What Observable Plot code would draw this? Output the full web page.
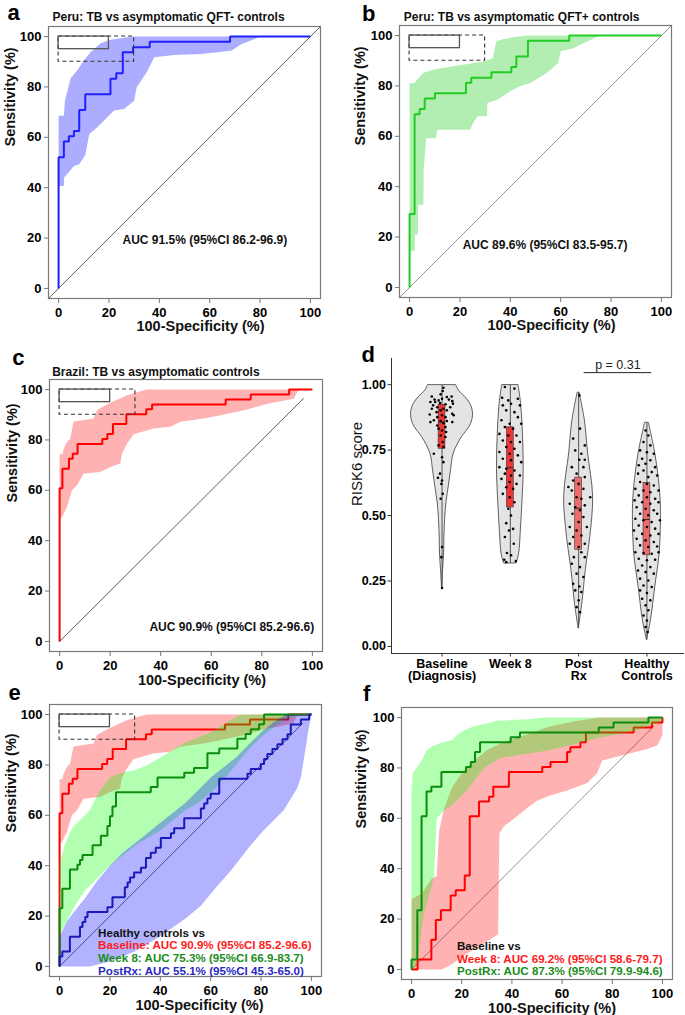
<!DOCTYPE html>
<html><head><meta charset="utf-8">
<script src="https://cdn.jsdelivr.net/npm/d3@7"></script>
<script src="https://cdn.jsdelivr.net/npm/@observablehq/plot@0.6"></script>
<style>
body{margin:0;background:#fff;overflow:hidden}
#fig{position:relative;width:685px;height:1015px;background:#fff}
#fig svg{position:absolute}
</style></head>
<body><div id="fig"></div>
<script>
// ---------------- DATA ----------------
const rocTicks = [0, 20, 40, 60, 80, 100];
const refSolid = [0, 20, 95, 100];   // x1,x2,y1,y2
const refDashed = [0, 30, 90, 100];
const diagFull = [-4, 104];
const diagShort = [0, 96.5];

// Panel a: Peru, TB vs QFT- controls
const aFpr = [0, 0, 2.1, 4.1, 6.1, 8.2, 10.6, 20.6, 22.9, 25.5, 29.6, 36.2, 68.1, 100];
const aTpr = [0, 52.1, 58.3, 60.4, 62.5, 70.8, 77.1, 83.3, 85.4, 93.8, 95.8, 97.9, 100, 100];
const aBandHi = [[0,68.6],[2.1,68.6],[2.5,74.5],[4.8,83.5],[7.4,86.5],[10,90.5],[12.7,93.8],[16.7,97.3],[20.6,98.7],[27.2,99.7],[30,100],[100,100]];
const aBandLo = [[0,40.7],[2.1,40.7],[2.2,44],[4,46],[6,48.5],[8.2,49.3],[10.6,53],[12.2,61.3],[15.3,63.9],[18,66.6],[22,70.6],[26,71.2],[30,74.5],[31,79.8],[35,85.8],[38,91.8],[46,92.7],[56.6,93.1],[68.6,94.4],[72.5,97],[80.4,100],[100,100]];

// Panel b: Peru, TB vs QFT+ controls
const bFpr = [0, 0, 2.0, 4.0, 6.0, 10.1, 22.4, 24.5, 32.5, 40.4, 42.4, 47, 63.4, 100];
const bTpr = [0, 29.2, 68.8, 70.8, 75, 77.1, 81.3, 83.3, 85.4, 87.5, 91.7, 97.9, 100, 100];
const bBandHi = [[0,81.2],[2,81.2],[3,82.5],[5.6,85.2],[9.6,86.5],[17.5,87.8],[25.5,89.1],[29.5,89.7],[33,91],[34.5,97.7],[37,98.5],[41,99.3],[46.4,100],[100,100]];
const bBandLo = [[0,14.6],[2,14.6],[2.2,21],[3.3,21],[3.4,32.8],[5.5,32.8],[5.6,46.6],[6.6,59.2],[10.5,59.2],[10.9,62.6],[24,62.6],[25.6,66],[27,68],[30.7,68],[30.9,73.2],[35,74.6],[40,77.9],[44,80],[48,81.2],[54.6,85.2],[59,89.1],[60,93.8],[65,95],[69,97],[75.6,100],[100,100]];

// Panel c (and e, baseline): Brazil, TB vs controls
const cFpr = [0, 0, 1.1, 3.7, 5.2, 7.1, 16.9, 18.9, 21.1, 26.4, 34.3, 36.6, 65.7, 75.6, 90.8, 100];
const cTpr = [0, 60.8, 68.6, 72.5, 74.5, 78.4, 80.4, 82.4, 86.3, 90.2, 92.2, 94.1, 96.1, 98.0, 100, 100];
const cBandHi = [[0,74.3],[1.1,74.3],[1.6,76.5],[2.9,79.2],[4.2,80.5],[5.5,87.3],[13.5,88.5],[14.8,91.8],[17.4,93.4],[21.4,95.4],[26.7,97.7],[33.3,99.7],[34.6,100],[100,100]];
const cBandLo = [[0,48.7],[1,49.4],[2.9,53.4],[4.9,60],[6.9,62],[9.5,66.6],[16.1,67.3],[20.1,69.3],[24,70.6],[24.7,74.6],[26.7,78.5],[29.3,82.3],[37.2,84.5],[43.9,85.2],[47.8,87.2],[57.1,88.5],[63.7,89.8],[73,91.8],[82.2,94.4],[92.7,96.4],[94,99],[95.4,100],[100,100]];

// Panel e: healthy controls vs Week 8 / PostRx
const eWk8Fpr = [0, 0, 1.1, 4.1, 7.1, 8.1, 9.1, 13.1, 16.4, 19, 20, 21, 22.4, 36.2, 38.9, 49.5, 53.4, 58.7, 63.4, 70.6, 73.9, 75.9, 79.2, 81.2, 100];
const eWk8Tpr = [0, 23.1, 30.8, 38.5, 40.4, 42.3, 44.2, 48.1, 51.9, 55.8, 59.6, 63.5, 69.2, 71.2, 75, 76.9, 78.8, 84.6, 86.5, 90.4, 92.3, 94.2, 96.2, 100, 100];
const eWk8BandHi = [[0,41],[2,48],[5,55],[8,58],[12,62],[16,70],[20,75],[25,77],[30,78],[35,80],[40,83],[45,86],[50,89],[55,91],[60,93],[65,96],[70,99],[72,100],[100,100]];
const eWk8BandLo = [[0,13],[3,18],[6,24],[10,30],[15,35],[20,40],[25,44],[30,48],[35,51],[40,54],[45,58],[50,62],[55,65],[60,69],[65,74],[70,80],[75,86],[80,91],[85,95],[90,98],[95,100],[100,100]];
const eRxFpr = [0, 0, 1.1, 4.1, 8.1, 9.1, 10.2, 11.1, 19, 21, 25.9, 27, 28, 29.6, 32.3, 34.3, 36.2, 38.2, 40.2, 44.2, 45.5, 49.5, 56.1, 57.4, 58.7, 60, 63.4, 74.6, 75.9, 79.9, 81.2, 82.5, 84.5, 86.5, 88.5, 90.5, 91.8, 95.8, 99.1, 100];
const eRxTpr = [0, 3.9, 5.9, 11.8, 15.7, 17.6, 19.6, 21.6, 23.5, 27.5, 31.4, 33.3, 35.3, 37.3, 39.2, 43.1, 45.1, 47.1, 51.0, 52.9, 54.9, 58.8, 62.7, 64.7, 66.7, 68.6, 74.5, 76.5, 78.4, 80.4, 82.4, 84.3, 86.3, 88.2, 90.2, 92.2, 96.1, 98, 100, 100];
const eRxBandHi = [[0,12],[3,18],[6,22],[10,27],[15,34],[20,40],[25,45],[30,49],[35,53],[40,57],[45,61],[50,65],[55,70],[60,75],[65,79],[70,83],[75,88],[80,93],[85,97],[90,100],[100,100]];
const eRxBandLo = [[0,0],[12,0],[20,2],[30,6],[40,12],[50,19],[56,24],[62.7,32],[68,38],[75,47],[80,53],[89,62],[94.5,71],[96,76],[98.5,92],[100,100]];
const eLegend = ["Healthy controls vs", "Baseline: AUC 90.9% (95%CI 85.2-96.6)", "Week 8: AUC 75.3% (95%CI 66.9-83.7)", "PostRx: AUC 55.1% (95%CI 45.3-65.0)"];

// Panel f: baseline vs Week 8 / PostRx
const fWk8Fpr = [0, 2.4, 7.9, 9.7, 11.7, 15.6, 17.6, 21.2, 23.2, 26.9, 30.9, 32.6, 38.8, 52.1, 55.4, 62, 63.3, 67.3, 69.5, 88.5, 95.8, 100];
const fWk8Tpr = [0, 3.9, 11.8, 19.6, 23.5, 29.4, 31.4, 37.3, 60.8, 66.7, 68.6, 72.5, 78.4, 80.4, 82.4, 86.3, 88.2, 90.2, 94.1, 96.1, 98.0, 100];
const fWk8BandHi = [[0,28],[4,30],[8,36],[10,37],[11,55],[13,64],[16,72],[20,78],[25,83],[30,87],[35,89.5],[45,93],[55,96.5],[65,98.5],[75,100],[100,100]];
const fWk8BandLo = [[0,0],[12,0],[16,2],[20,5],[25,8],[30,11],[34.5,14],[35,54],[37,57],[41,60],[46,64],[50,67],[55,69],[62,71],[70,74],[74,78],[76,83],[86,85.5],[94,87.5],[98,89],[100,93]];
const fRxFpr = [0, 0, 2.3, 4, 6, 7.9, 11.9, 21.7, 23.6, 25.3, 27.3, 39.5, 43.2, 74.6, 80.5, 94.4, 100];
const fRxTpr = [0, 3.9, 23.5, 60.8, 70.6, 72.5, 78.4, 80.4, 82.4, 86.3, 90.2, 92.2, 94.1, 96.1, 98.0, 100, 100];
const fRxBandHi = [[0,71],[0.5,78],[2,80],[4,83],[6,87],[8,88.5],[12,90],[16,91],[18,93],[21,95],[25,96.7],[30,97.6],[34,98.7],[46,99.3],[53,100],[100,100]];
const fRxBandLo = [[0,0],[2,2],[3,8],[4,16],[5,22],[6,26],[7.5,31],[9,37],[10,60],[14,64],[16,65],[22,71],[29,80],[35.5,84],[55,87],[75,92],[88.5,94.6],[100,98.6]];
const fLegend = ["Baseline vs", "Week 8: AUC 69.2% (95%CI 58.6-79.7)", "PostRx: AUC 87.3% (95%CI 79.9-94.6)"];

// Panel d: RISK6 scores
const dCategories = ["Baseline\n(Diagnosis)", "Week 8", "Post\nRx", "Healthy\nControls"];
const dYTicks = [0, 0.25, 0.5, 0.75, 1];
const violinBaseY = [0.997,0.978,0.952,0.927,0.889,0.85,0.825,0.80,0.737,0.673,0.61,0.546,0.483,0.419,0.355,0.292,0.222];
const violinBaseW = [0.208,0.245,0.341,0.414,0.454,0.425,0.366,0.293,0.171,0.132,0.098,0.063,0.044,0.034,0.03,0.015,0];
const violinWk8Y = [0.997,0.927,0.80,0.673,0.546,0.444,0.355,0.317];
const violinWk8W = [0.12,0.157,0.186,0.195,0.176,0.154,0.129,0.092];
const violinRxY = [0.968,0.864,0.737,0.572,0.419,0.292,0.164,0.068];
const violinRxW = [0.015,0.091,0.139,0.212,0.171,0.105,0.054,0];
const violinHcY = [0.853,0.737,0.61,0.521,0.355,0.228,0.1,0.024];
const violinHcW = [0.029,0.122,0.186,0.205,0.186,0.122,0.059,0];
const boxQ1 = [0.755, 0.531, 0.369, 0.348];
const boxMed = [0.857, 0.683, 0.528, 0.485];
const boxQ3 = [0.923, 0.837, 0.645, 0.625];
const boxMin = [0.222, 0.317, 0.068, 0.024];
const boxMax = [0.997, 0.997, 0.968, 0.853];
const baseDx = [0.02,0.01,-0.02,0.14,-0.15,0.07,-0.11,-0.05,0,0.1,-0.17,-0.1,0.15,-0.03,0.16,-0.13,0.05,-0.07,0.12,-0.15,0.02,0.07,-0.02,-0.08,-0.18,0.15,0,0.17,-0.07,0.05,-0.12,-0.02,0.07,-0.17,0.15,0.02,-0.07,0.05,-0.05,0,0.06,-0.02,0.05,0.01,-0.05,0.02,-0.12,0,0.02,-0.03,-0.06,0,-0.01,0.01,-0.02,0,-0.01,0];
const baseY = [0.988,0.976,0.963,0.955,0.955,0.953,0.943,0.940,0.946,0.943,0.934,0.934,0.937,0.930,0.927,0.921,0.925,0.914,0.914,0.908,0.908,0.902,0.902,0.895,0.886,0.889,0.883,0.883,0.876,0.876,0.864,0.861,0.861,0.857,0.857,0.853,0.844,0.838,0.832,0.825,0.819,0.806,0.800,0.781,0.768,0.762,0.736,0.723,0.704,0.660,0.644,0.634,0.621,0.583,0.564,0.380,0.341,0.223];
const wk8Dx = [-0.08,0.06,-0.12,0.11,-0.03,-0.11,0.01,0.14,-0.06,0.06,0.11,-0.13,-0.01,0.16,-0.08,0.04,-0.16,-0.03,0.09,-0.11,0.01,0.14,-0.06,0.06,-0.16,-0.01,0.11,-0.11,0.01,0.16,-0.16,-0.06,0.06,-0.08,0.01,0.14,-0.13,-0.01,0.09,-0.06,0.04,-0.11,-0.01,0.06,-0.03,0.01,-0.06,0.04,-0.02,-0.08,0.05,-0.05,0.01,-0.09,0.08,-0.06];
const wk8Y = [0.991,0.985,0.950,0.946,0.940,0.921,0.927,0.921,0.902,0.895,0.876,0.864,0.851,0.851,0.838,0.832,0.812,0.806,0.806,0.787,0.781,0.781,0.762,0.755,0.743,0.736,0.730,0.717,0.711,0.704,0.685,0.679,0.672,0.660,0.653,0.653,0.640,0.628,0.621,0.608,0.602,0.583,0.570,0.551,0.526,0.500,0.471,0.449,0.443,0.418,0.392,0.357,0.348,0.331,0.326,0.322];
const rxDx = [0.01,0.02,-0.08,0.09,-0.05,0.04,0.01,0.09,-0.10,0.07,-0.03,-0.08,0.09,0,-0.15,0.07,-0.10,0.17,-0.03,0.04,-0.13,0.09,-0.05,0.02,-0.09,0.07,0,-0.13,0.12,-0.03,0.04,-0.08,0.09,-0.13,0,0.04,-0.07,0.09,-0.10,0.02,-0.03,0.07,-0.08,0.01,0.04,-0.05,0,-0.03,0.02];
const rxY = [0.959,0.832,0.794,0.768,0.749,0.736,0.713,0.713,0.685,0.685,0.660,0.634,0.647,0.621,0.609,0.602,0.596,0.570,0.570,0.564,0.545,0.539,0.532,0.520,0.507,0.494,0.475,0.456,0.456,0.443,0.424,0.418,0.392,0.392,0.380,0.360,0.341,0.341,0.316,0.303,0.278,0.265,0.239,0.229,0.208,0.214,0.176,0.150,0.131];
const hcDx = [-0.02,0.02,-0.05,0.05,-0.10,0,0.10,-0.07,0.05,-0.12,-0.02,0.12,-0.05,0.07,-0.13,0.02,0.15,-0.10,0,0.10,-0.17,-0.05,0.05,0.17,-0.12,0,0.12,-0.18,-0.07,0.05,0.17,-0.15,-0.02,0.10,-0.10,0.02,0.15,-0.17,-0.05,0.07,0.19,-0.12,0,0.12,-0.19,-0.07,0.05,0.17,-0.15,-0.02,0.10,-0.10,0.02,0.15,-0.17,-0.05,0.07,0.17,-0.12,0,0.12,-0.07,0.05,-0.13,-0.02,0.10,-0.10,0.02,-0.05,0.07,-0.10,0,-0.07,0.05,-0.02,0.02,-0.05,0,-0.02,0.01];
const hcY = [0.825,0.806,0.781,0.768,0.749,0.742,0.736,0.717,0.711,0.692,0.698,0.685,0.672,0.666,0.660,0.647,0.653,0.628,0.621,0.615,0.602,0.596,0.589,0.596,0.577,0.570,0.564,0.558,0.551,0.545,0.551,0.532,0.526,0.520,0.507,0.501,0.507,0.488,0.482,0.475,0.482,0.462,0.456,0.450,0.443,0.430,0.424,0.430,0.411,0.405,0.399,0.386,0.380,0.382,0.360,0.357,0.354,0.360,0.335,0.329,0.331,0.309,0.303,0.290,0.284,0.278,0.259,0.252,0.233,0.227,0.214,0.204,0.182,0.176,0.157,0.138,0.118,0.099,0.074,0.055];
const sigX = [3.08, 4.07];
const sigY = 1.046;
const sigLabel = "p = 0.31";

// ---------------- DRAWING ----------------
const FONT = "'Liberation Sans', Arial, Helvetica, sans-serif";
const fig = document.getElementById("fig");
const pts = (xs, ys) => xs.map((x, i) => ({x, y: ys[i]}));
const poly = (hi, lo) => [...hi, ...lo.slice().reverse()].map(([x, y]) => ({x, y}));

function place(svg, left, top) {
  svg.style.left = left + "px";
  svg.style.top = top + "px";
  svg.style.background = "transparent";
  svg.style.overflow = "visible";
  svg.style.maxWidth = "none";
  svg.style.fontFamily = FONT;
  fig.appendChild(svg);
}

function rocPlot(c) {
  const marks = [];
  marks.push(Plot.line(pts(c.diag, c.diag), {x: "x", y: "y", stroke: c.diagColor, strokeWidth: 0.8}));
  for (const L of c.layers) {
    marks.push(Plot.line(poly(L.hi, L.lo), {x: "x", y: "y", fill: L.bandColor, fillOpacity: L.opacity, stroke: "none"}));
    marks.push(Plot.line(pts(L.fpr, L.tpr), {x: "x", y: "y", stroke: L.color, strokeWidth: 2, curve: "step-after", strokeLinecap: "butt", strokeLinejoin: "miter"}));
  }
  if (c.ref) {
    marks.push(Plot.rect([refDashed], {x1: d => d[0], x2: d => d[1], y1: d => d[2], y2: d => d[3], fill: "none", stroke: "#333", strokeWidth: 1.1, strokeDasharray: "4,3"}));
    marks.push(Plot.rect([refSolid], {x1: d => d[0], x2: d => d[1], y1: d => d[2], y2: d => d[3], fill: "none", stroke: "#555", strokeWidth: 1.3}));
  }
  marks.push(Plot.frame({stroke: "#7a7a7a", strokeWidth: 1.2}));
  marks.push(Plot.axisX({ticks: rocTicks, tickSize: 5, tickPadding: 4, fontSize: 13, fontWeight: "bold", stroke: "#777", label: null}));
  marks.push(Plot.axisY({ticks: rocTicks, tickSize: 4, tickPadding: 3, fontSize: 13, fontWeight: "bold", stroke: "#777", label: null}));
  marks.push(Plot.text(["100-Specificity (%)"], {text: d => d, frameAnchor: "bottom", lineAnchor: "middle", dx: c.xl[0], dy: c.xl[1], fontSize: 14.5, fontWeight: "bold", fill: "#111"}));
  marks.push(Plot.text(["Sensitivity (%)"], {text: d => d, frameAnchor: "left", lineAnchor: "middle", rotate: -90, dx: c.yl[0], dy: c.yl[1], fontSize: 14.5, fontWeight: "bold", fill: "#111"}));
  marks.push(Plot.text([c.letter], {text: d => d, frameAnchor: "top-left", lineAnchor: "middle", dx: c.lt[0], dy: c.lt[1], fontSize: 22, fontWeight: "bold", fill: "#000"}));
  if (c.title) marks.push(Plot.text([c.title], {text: d => d, frameAnchor: "top-left", lineAnchor: "middle", textAnchor: "start", dx: c.tt[0], dy: c.tt[1], fontSize: 12, fontWeight: "bold", fill: "#111"}));
  if (c.auc) marks.push(Plot.text([c.auc], {x: d => d.x, y: d => d.y, text: d => d.t, textAnchor: c.auc.anchor, fontSize: 12, fontWeight: "bold", fill: "#111"}));
  if (c.legend) marks.push(Plot.text(c.legend.lines, {x: () => c.legend.x, y: (d, i) => c.legend.y[i], text: d => d, fill: (d, i) => c.legend.colors[i], textAnchor: "start", fontSize: 11.6, fontWeight: "bold"}));
  const svg = Plot.plot({
    width: c.w, height: c.h,
    marginLeft: c.m[0], marginRight: c.m[1], marginTop: c.m[2], marginBottom: c.m[3],
    x: {domain: [-4, 104]}, y: {domain: [-4, 104]},
    color: {type: "identity"},
    style: {fontFamily: FONT},
    marks
  });
  place(svg, c.left, c.top);
}

// a
rocPlot({letter: "a", title: "Peru: TB vs asymptomatic QFT- controls", left: 0, top: 0, w: 340, h: 335, m: [48, 20, 26, 37],
  diag: diagFull, diagColor: "#333", ref: true,
  layers: [{fpr: aFpr, tpr: aTpr, hi: aBandHi, lo: aBandLo, color: "#1f1fff", bandColor: "#0000ff", opacity: 0.32}],
  xl: [16, 28], yl: [-38, -16], lt: [-41, -13.5], tt: [4, -9],
  auc: {t: "AUC 91.5% (95%CI 86.2-96.9)", x: 58.1, y: 19, anchor: "middle"}});
// b
rocPlot({letter: "b", title: "Peru: TB vs asymptomatic QFT+ controls", left: 340, top: 0, w: 345, h: 335, m: [59, 14, 25, 38],
  diag: diagFull, diagColor: "#777", ref: true,
  layers: [{fpr: bFpr, tpr: bTpr, hi: bBandHi, lo: bBandLo, color: "#22cc22", bandColor: "#00c800", opacity: 0.3}],
  xl: [16, 28], yl: [-39, -16], lt: [-37.5, -12], tt: [4.3, -8],
  auc: {t: "AUC 89.6% (95%CI 83.5-95.7)", x: 53.8, y: 16.6, anchor: "middle"}});
// c
rocPlot({letter: "c", title: "Brazil: TB vs asymptomatic controls", left: 0, top: 330, w: 340, h: 360, m: [49, 18, 49, 39],
  diag: diagShort, diagColor: "#333", ref: true,
  layers: [{fpr: cFpr, tpr: cTpr, hi: cBandHi, lo: cBandLo, color: "#ff0000", bandColor: "#ff0000", opacity: 0.3}],
  xl: [16, 29], yl: [-37, -13], lt: [-37.3, -21.5], tt: [2.7, -7.3],
  auc: {t: "AUC 90.9% (95%CI 85.2-96.6)", x: 100.7, y: 5.6, anchor: "end"}});
// e
rocPlot({letter: "e", left: 0, top: 660, w: 340, h: 355, m: [49, 19, 44, 39],
  diag: diagShort, diagColor: "#444", ref: true,
  layers: [
    {fpr: cFpr, tpr: cTpr, hi: cBandHi, lo: cBandLo, color: "#ff0000", bandColor: "#ff0000", opacity: 0.3},
    {fpr: eWk8Fpr, tpr: eWk8Tpr, hi: eWk8BandHi, lo: eWk8BandLo, color: "#0c8c0c", bandColor: "#00ff00", opacity: 0.3},
    {fpr: eRxFpr, tpr: eRxTpr, hi: eRxBandHi, lo: eRxBandLo, color: "#1a1ab8", bandColor: "#0000ff", opacity: 0.3}
  ],
  xl: [14, 29], yl: [-38, -8], lt: [-41, -11.5],
  legend: {lines: eLegend, x: 15.3, y: [13.2, 8.2, 3.2, -1.8], colors: ["#111", "#ff1a1a", "#1a8c1a", "#2a2ac4"]}});
// f
rocPlot({letter: "f", left: 340, top: 660, w: 345, h: 355, m: [61, 13, 47, 36],
  diag: diagShort, diagColor: "#777", ref: false,
  layers: [
    {fpr: fWk8Fpr, tpr: fWk8Tpr, hi: fWk8BandHi, lo: fWk8BandLo, color: "#ff0000", bandColor: "#ff0000", opacity: 0.3},
    {fpr: fRxFpr, tpr: fRxTpr, hi: fRxBandHi, lo: fRxBandLo, color: "#0c8c0c", bandColor: "#00ff00", opacity: 0.3}
  ],
  xl: [15, 28.4], yl: [-40, -15], lt: [-38.5, -14],
  legend: {lines: fLegend, x: 18.1, y: [9.3, 4.2, -0.9], colors: ["#111", "#ff1a1a", "#1a8c1a"]}});

// d: violins
(function () {
  const xDom = [0.26, 4.55], yDom = [-0.027, 1.1];
  const profiles = [[violinBaseY, violinBaseW], [violinWk8Y, violinWk8W], [violinRxY, violinRxW], [violinHcY, violinHcW]];
  const boxFill = ["#ef3636", "#ef3636", "#ef6b6b", "#ef6b6b"];
  const pointsSets = [[baseDx, baseY], [wk8Dx, wk8Y], [rxDx, rxY], [hcDx, hcY]];
  const boxes = boxQ1.map((q1, i) => ({c: i + 1, q1, q3: boxQ3[i], med: boxMed[i], lo: boxMin[i], hi: boxMax[i], fill: boxFill[i]}));
  const dots = pointsSets.flatMap(([dx, ys], i) => ys.map((y, j) => ({c: i + 1, dx: dx[j], y})));
  const marks = [];
  profiles.forEach(([ys, ws], i) => {
    const c = i + 1;
    marks.push(Plot.areaX(ys.map((y, j) => ({y, w: ws[j]})), {y: "y", x1: d => c - d.w, x2: d => c + d.w, fill: "#e4e4e4", stroke: "#3a3a3a", strokeWidth: 0.8, curve: "catmull-rom"}));
  });
  marks.push(Plot.ruleX(boxes, {x: "c", y1: "lo", y2: "hi", stroke: "#444", strokeWidth: 0.9}));
  marks.push(Plot.rect(boxes, {x1: d => d.c - 0.05, x2: d => d.c + 0.05, y1: "q1", y2: "q3", fill: "fill", stroke: "#333", strokeWidth: 0.6}));
  marks.push(Plot.ruleY(boxes, {y: "med", x1: d => d.c - 0.05, x2: d => d.c + 0.05, stroke: "#333", strokeWidth: 1}));
  marks.push(Plot.dot(dots, {x: d => d.c + d.dx, y: "y", r: 1.3, fill: "#000", stroke: "none"}));
  marks.push(Plot.ruleY([sigY], {x1: sigX[0], x2: sigX[1], stroke: "#222", strokeWidth: 1}));
  marks.push(Plot.text([sigLabel], {text: d => d, x: (sigX[0] + sigX[1]) / 2, y: sigY, dy: -8, fontSize: 12.5, fill: "#222"}));
  marks.push(Plot.ruleX([xDom[0]], {stroke: "#333", strokeWidth: 1}));
  marks.push(Plot.ruleY([yDom[0]], {stroke: "#333", strokeWidth: 1}));
  marks.push(Plot.axisY({ticks: dYTicks, tickFormat: d3.format(".2f"), tickSize: 3.5, tickPadding: 2, fontSize: 12.5, fontWeight: "bold", stroke: "#333", label: null}));
  marks.push(Plot.axisX({ticks: [1, 2, 3, 4], tickFormat: i => dCategories[i - 1], tickSize: 3.5, tickPadding: 2, fontSize: 12.5, fontWeight: "bold", stroke: "#333", label: null}));
  marks.push(Plot.text(["RISK6 score"], {text: d => d, frameAnchor: "left", lineAnchor: "middle", rotate: -90, dx: -34, fontSize: 15, fill: "#111"}));
  marks.push(Plot.text(["d"], {text: d => d, frameAnchor: "top-left", lineAnchor: "middle", dx: -30, dy: -3.3, fontSize: 22, fontWeight: "bold", fill: "#000"}));
  const svg = Plot.plot({
    width: 345, height: 355, marginLeft: 51, marginRight: 1, marginTop: 28, marginBottom: 32,
    x: {domain: xDom}, y: {domain: yDom},
    color: {type: "identity"},
    style: {fontFamily: FONT},
    marks
  });
  place(svg, 340, 330);
})();
</script>
</body></html>
